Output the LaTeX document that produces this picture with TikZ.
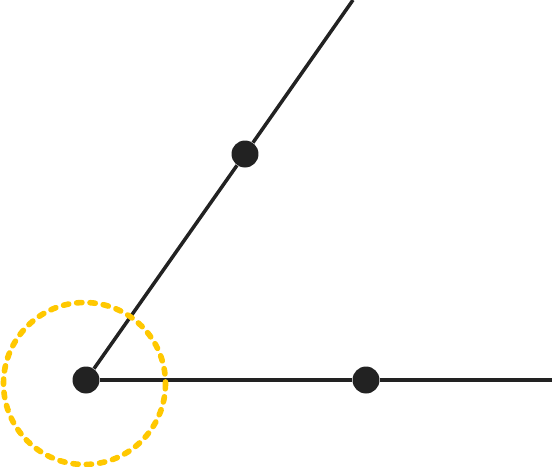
\documentclass[tikz,border=0pt]{standalone}
\usepackage{tikz}
\definecolor{ink}{RGB}{34,34,34}
\definecolor{cgold}{RGB}{255,200,0}
\tikzset{
  dot/.style={circle,fill=ink,draw=none,minimum size=0.54cm,inner sep=0pt},
  ray/.style={draw=ink,line width=2pt},
  ring/.style={draw=cgold,line width=3.2pt,line cap=round,
    dash pattern=on 3pt off 4.6pt}
}
\begin{document}
\begin{tikzpicture}[x=0.02cm,y=-0.02cm]
  \useasboundingbox (0,0) rectangle (552,467);
  % vertex and points on the two rays
  \node[dot] (O) at (86,380) {};
  \node[dot] (A) at (245,154) {};
  \node[dot] (B) at (366,380) {};
  \coordinate (Aend) at (353,0);
  \coordinate (Bend) at (552,380);
  \draw[ray] (O) -- (A) -- (Aend);
  \draw[ray] (O) -- (B) -- (Bend);
  % angle marker
  \draw[ring] (84.5,383.5) circle[radius=81];
\end{tikzpicture}
\end{document}
